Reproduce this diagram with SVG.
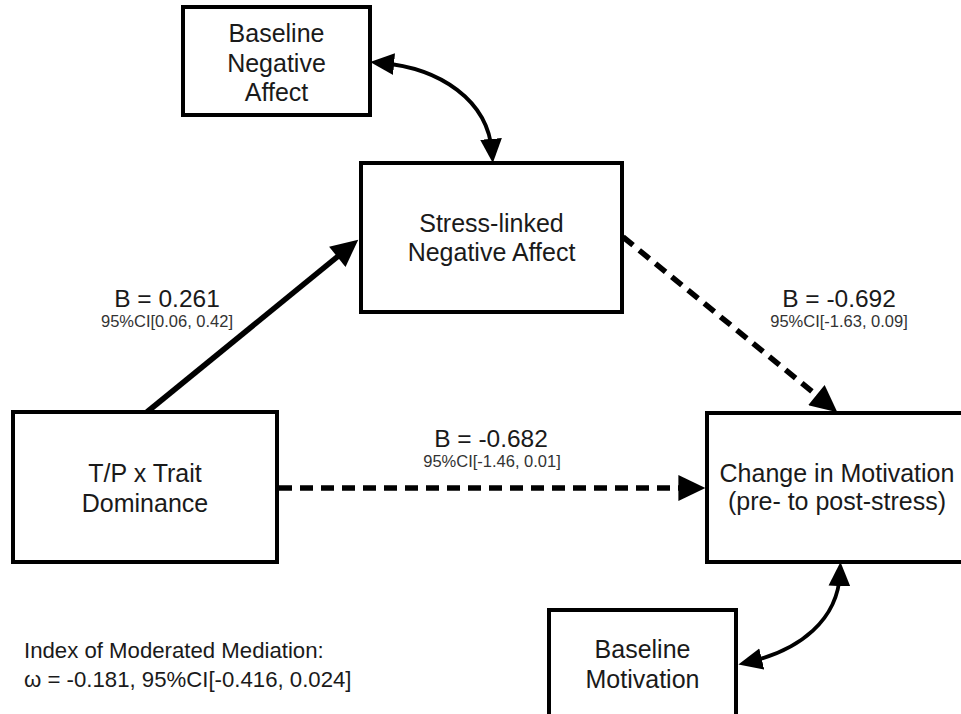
<svg xmlns="http://www.w3.org/2000/svg" width="961" height="714" viewBox="0 0 961 714">
<style>
  .box { fill: #fff; stroke: #000; stroke-width: 4; }
  .t { font-family: "Liberation Sans", Arial, Helvetica, sans-serif; font-size: 25px; fill: #1a1a1a; text-anchor: middle; }
  .lbl { font-family: "Liberation Sans", Arial, Helvetica, sans-serif; font-size: 24.5px; fill: #1a1a1a; text-anchor: middle; }
  .ci { font-family: "Liberation Sans", Arial, Helvetica, sans-serif; font-size: 16.5px; fill: #333; text-anchor: middle; }
  .note { font-family: "Liberation Sans", Arial, Helvetica, sans-serif; font-size: 22.2px; fill: #1a1a1a; }
  .solid { fill: none; stroke: #000; stroke-width: 5.5; }
  .dash { fill: none; stroke: #000; stroke-width: 5.5; stroke-dasharray: 13 8; }
  .curve { fill: none; stroke: #000; stroke-width: 3.8; }
</style>
<defs>
  <marker id="ah" markerUnits="userSpaceOnUse" markerWidth="28" markerHeight="26" viewBox="0 0 26 25" refX="16" refY="12.5" orient="auto-start-reverse">
    <path d="M0,0 L26,12.5 L0,25 z" fill="#000"/>
  </marker>
  <marker id="ahs" markerUnits="userSpaceOnUse" markerWidth="24" markerHeight="22" viewBox="0 0 22 20" refX="12" refY="10" orient="auto-start-reverse">
    <path d="M0,0 L22,10 L0,20 z" fill="#000"/>
  </marker>
</defs>
<rect width="961" height="714" fill="#fff"/>

<g id="connectors">
  <path class="solid" d="M147,412 L350.2,246.3" marker-end="url(#ah)"/>
  <path class="dash" d="M623,237 L829.3,405.7" marker-end="url(#ah)"/>
  <path class="dash" d="M279,488 L695,488" marker-end="url(#ah)"/>
  <path class="curve" d="M381,63 C440,68 488,100 492,152" marker-start="url(#ahs)" marker-end="url(#ahs)"/>
  <path class="curve" d="M749,662 C800,650 838,620 840,573" marker-start="url(#ahs)" marker-end="url(#ahs)"/>
</g>

<g id="baseline-negative-affect">
  <rect class="box" x="183" y="7" width="187" height="108"/>
  <text class="t" x="276.5" y="42">Baseline</text>
  <text class="t" x="276.5" y="71.5">Negative</text>
  <text class="t" x="276.5" y="101">Affect</text>
</g>

<g id="stress-linked-negative-affect">
  <rect class="box" x="361" y="163" width="261" height="149"/>
  <text class="t" x="491.5" y="232">Stress-linked</text>
  <text class="t" x="491.5" y="261">Negative Affect</text>
</g>

<g id="tp-trait-dominance">
  <rect class="box" x="13" y="412" width="264" height="150"/>
  <text class="t" x="145" y="482">T/P x Trait</text>
  <text class="t" x="145" y="512">Dominance</text>
</g>

<g id="change-in-motivation">
  <rect class="box" x="707" y="413" width="258" height="149"/>
  <text class="t" x="837" y="482">Change in Motivation</text>
  <text class="t" x="837" y="510">(pre- to post-stress)</text>
</g>

<g id="baseline-motivation">
  <rect class="box" x="549" y="610" width="187" height="120"/>
  <text class="t" x="642.5" y="658">Baseline</text>
  <text class="t" x="642.5" y="688">Motivation</text>
</g>

<g id="labels">
  <text class="lbl" x="167" y="307">B = 0.261</text>
  <text class="ci" x="167" y="327">95%CI[0.06, 0.42]</text>
  <text class="lbl" x="839" y="307">B = -0.692</text>
  <text class="ci" x="839" y="327">95%CI[-1.63, 0.09]</text>
  <text class="lbl" x="491" y="447">B = -0.682</text>
  <text class="ci" x="492" y="467">95%CI[-1.46, 0.01]</text>
  <text class="note" x="24" y="658">Index of Moderated Mediation:</text>
  <text class="note" x="24" y="687">ω = -0.181, 95%CI[-0.416, 0.024]</text>
</g>
</svg>
